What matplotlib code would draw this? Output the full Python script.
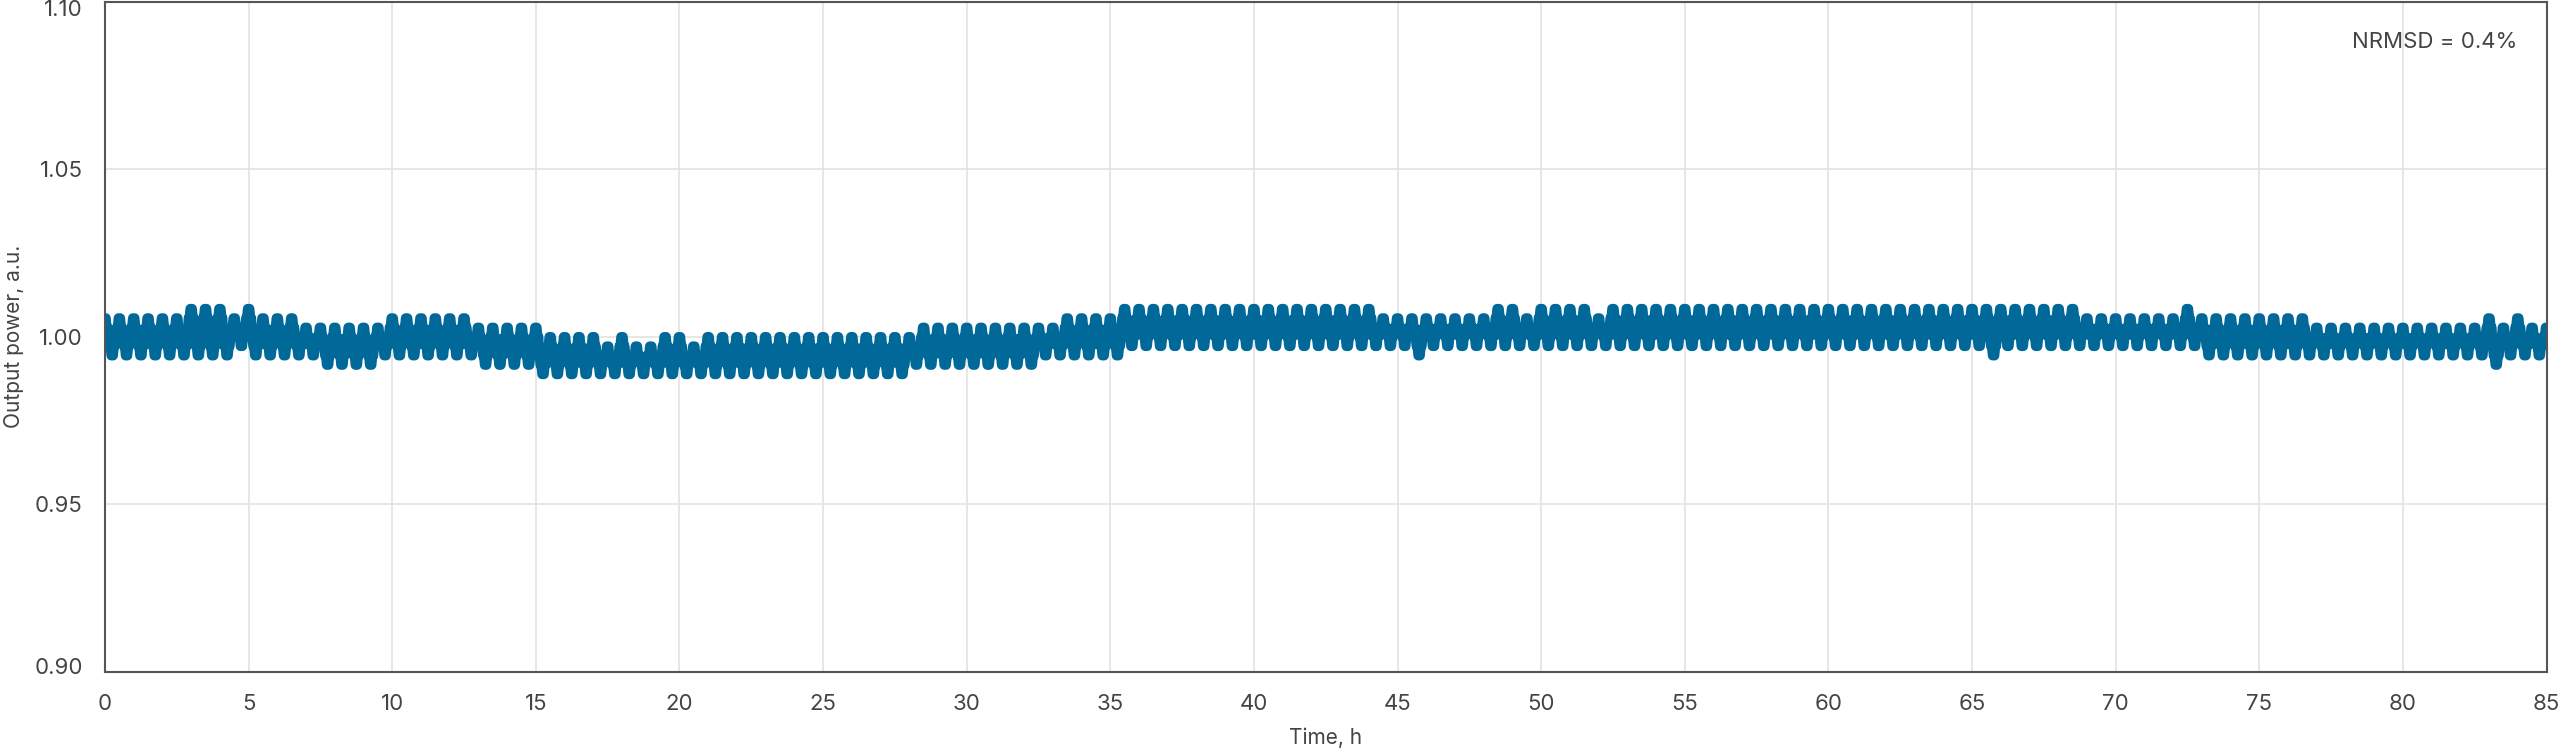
import numpy as np
import matplotlib
matplotlib.use('Agg')
import matplotlib.pyplot as plt
import matplotlib.transforms as mtransforms

plt.rcParams['font.family'] = ['Inter', 'DejaVu Sans']

# --- data ---
# one tooth every half hour; levels are counted in quantisation steps
CYCLE_H = 0.5
LEVEL_ZERO = 1.0
LEVEL_STEP = 0.0028

# top level of each tooth (t = 0, 0.5, ..., 85 h)
TOP = [
    2, 2, 2, 2, 2, 2, 3, 3, 3, 2,
    3, 2, 2, 2, 1, 1, 1, 1, 1, 1,
    2, 2, 2, 2, 2, 2, 1, 1, 1, 1,
    1, 0, 0, 0, 0, -1, 0, -1, -1, 0,
    0, -1, 0, 0, 0, 0, 0, 0, 0, 0,
    0, 0, 0, 0, 0, 0, 0, 1, 1, 1,
    1, 1, 1, 1, 1, 1, 1, 2, 2, 2,
    2, 3, 3, 3, 3, 3, 3, 3, 3, 3,
    3, 3, 3, 3, 3, 3, 3, 3, 3, 2,
    2, 2, 2, 2, 2, 2, 2, 3, 3, 2,
    3, 3, 3, 3, 2, 3, 3, 3, 3, 3,
    3, 3, 3, 3, 3, 3, 3, 3, 3, 3,
    3, 3, 3, 3, 3, 3, 3, 3, 3, 3,
    3, 3, 3, 3, 3, 3, 3, 3, 2, 2,
    2, 2, 2, 2, 2, 3, 2, 2, 2, 2,
    2, 2, 2, 2, 1, 1, 1, 1, 1, 1,
    1, 1, 1, 1, 1, 1, 2, 1, 2, 1,
    1,
]

# bottom level between tooth n and tooth n+1
BOT = [
    -2, -2, -2, -2, -2, -2, -2, -2, -2, -1,
    -2, -2, -2, -2, -2, -3, -3, -3, -3, -2,
    -2, -2, -2, -2, -2, -2, -3, -3, -3, -3,
    -4, -4, -4, -4, -4, -4, -4, -4, -4, -4,
    -4, -4, -4, -4, -4, -4, -4, -4, -4, -4,
    -4, -4, -4, -4, -4, -4, -3, -3, -3, -3,
    -3, -3, -3, -3, -3, -2, -2, -2, -2, -2,
    -2, -1, -1, -1, -1, -1, -1, -1, -1, -1,
    -1, -1, -1, -1, -1, -1, -1, -1, -1, -1,
    -1, -2, -1, -1, -1, -1, -1, -1, -1, -1,
    -1, -1, -1, -1, -1, -1, -1, -1, -1, -1,
    -1, -1, -1, -1, -1, -1, -1, -1, -1, -1,
    -1, -1, -1, -1, -1, -1, -1, -1, -1, -1,
    -1, -2, -1, -1, -1, -1, -1, -1, -1, -1,
    -1, -1, -1, -1, -1, -1, -2, -2, -2, -2,
    -2, -2, -2, -2, -2, -2, -2, -2, -2, -2,
    -2, -2, -2, -2, -2, -2, -3, -2, -2, -2,
]

# shape of one period (0 = bottom level, 1 = top level), 16 samples
SHAPE = [1, 1, 0.75, 0.75, 0.5, 0.25, 0.25, 0,
         0, 0, 0.25, 0.25, 0.5, 0.75, 0.75, 1]

X_TICKS = list(range(0, 90, 5))
Y_TICKS = [0.90, 0.95, 1.00, 1.05, 1.10]
NRMSD_TEXT = 'NRMSD = 0.4%'

# build the time series
shape = np.array(SHAPE)
ns = len(shape)
t, lev = [], []
for n in range(len(BOT)):
    for j in range(ns):
        hi = TOP[n] if j < ns // 2 else TOP[n + 1]
        lev.append(BOT[n] + np.round(shape[j] * (hi - BOT[n])))
        t.append((n + j / ns) * CYCLE_H)
t.append(len(BOT) * CYCLE_H)
lev.append(TOP[len(BOT)])
t = np.array(t)
power = LEVEL_ZERO + LEVEL_STEP * np.array(lev)

fig = plt.figure(figsize=(25.6, 7.51), dpi=100)
ax = fig.add_axes([105 / 2560, 79.3 / 751, 2441.5 / 2560, 669.7 / 751])

ax.plot(t, power, color='#00699a', lw=7, solid_joinstyle='round',
        solid_capstyle='round', zorder=2)

ax.set_xlim(0, 85)
ax.set_ylim(0.90, 1.10)
ax.set_xticks(X_TICKS)
ax.set_yticks(Y_TICKS)
ax.set_yticklabels([f'{v:.2f}' for v in Y_TICKS])

ax.set_axisbelow(True)
ax.grid(True, color='#e3e3e3', lw=1.2)
ax.tick_params(length=0, labelsize=16, labelcolor='#444444')
ax.tick_params(axis='x', pad=16)
ax.tick_params(axis='y', pad=16)
for s in ax.spines.values():
    s.set_color('#555555')
    s.set_linewidth(1.5)

# the outer y labels are pulled inside the frame, as in the reference
shift_px = [5.5, 0, 0, 0, -6.5]
for lab, dy in zip(ax.get_yticklabels(), shift_px):
    off = mtransforms.ScaledTranslation(0, dy / 100, fig.dpi_scale_trans)
    lab.set_transform(lab.get_transform() + off)

ax.set_xlabel('Time, h', fontsize=15, color='#444444')
ax.xaxis.set_label_coords(0.5, -(738 - 671.7) / 669.7)
ax.xaxis.label.set_va('center')
ax.set_ylabel('Output power, a.u.', fontsize=15, color='#444444')
ax.yaxis.set_label_coords(-(105 - 14) / 2441.5, 0.5)
ax.yaxis.label.set_va('center')

ax.text(0.988, 0.94, NRMSD_TEXT, transform=ax.transAxes, ha='right',
        va='center', fontsize=16, color='#444444')

fig.savefig('out.png', dpi=100)
